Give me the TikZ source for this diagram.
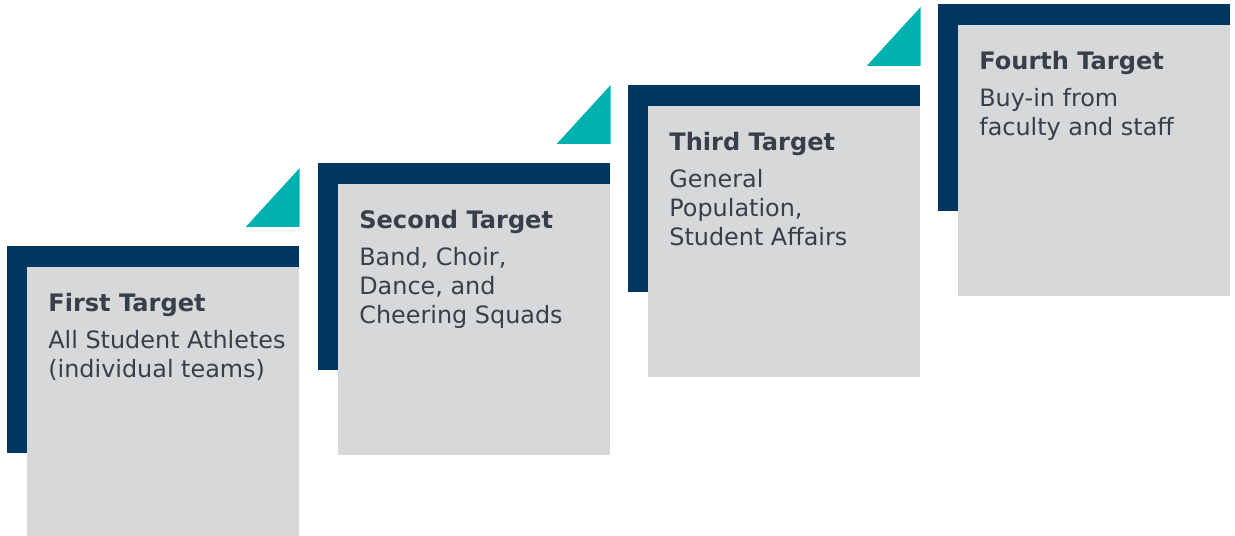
\documentclass[tikz,border=0pt]{standalone}
\usepackage{fontspec}
\setmainfont{DejaVu Sans}
\usetikzlibrary{positioning}
\definecolor{navy}{RGB}{0,54,96}
\definecolor{tealtip}{RGB}{0,178,175}
\definecolor{cardgrey}{RGB}{215,216,218}
\definecolor{inkgrey}{RGB}{55,64,74}

\begin{document}
\begin{tikzpicture}[x=0.02cm, y=-0.02cm,
    backbox/.style={rectangle, fill=navy, inner sep=0pt, minimum width=5.84cm, minimum height=4.14cm, anchor=north west},
    cardbox/.style={rectangle, fill=cardgrey, inner sep=0pt, minimum width=5.44cm, minimum height=5.42cm, anchor=north east},
    steptitle/.style={anchor=base west, inner sep=0pt, font=\bfseries\fontsize{13.7}{17}\selectfont, text=inkgrey},
    stepbody/.style={anchor=north west, inner sep=0pt, align=left, font=\fontsize{13.6}{16.5}\selectfont, text=inkgrey}]
    \clip (0,0) rectangle (1235,536);

    % first step
    \node[backbox] (back1) at (7,246) {};
    \node[cardbox] (card1) at ([yshift=-0.42cm]back1.north east) {};
    \coordinate (corner1) at ([yshift=0.38cm]back1.north east);
    \fill[tealtip] (corner1) -- ++(0,-59) -- ++(-54,59) -- cycle;
    \node[steptitle] (head1) at ([xshift=0.42cm, yshift=-0.9cm]card1.north west) {First Target};
    \node[stepbody] (text1) at ([xshift=0.42cm, yshift=-1.27cm]card1.north west) {All Student Athletes\\(individual teams)};

    % second step
    \node[backbox] (back2) at (318,163) {};
    \node[cardbox] (card2) at ([yshift=-0.42cm]back2.north east) {};
    \coordinate (corner2) at ([yshift=0.38cm]back2.north east);
    \fill[tealtip] (corner2) -- ++(0,-59) -- ++(-54,59) -- cycle;
    \node[steptitle] (head2) at ([xshift=0.42cm, yshift=-0.9cm]card2.north west) {Second Target};
    \node[stepbody] (text2) at ([xshift=0.42cm, yshift=-1.27cm]card2.north west) {Band, Choir,\\Dance, and\\Cheering Squads};

    % third step
    \node[backbox] (back3) at (628,85) {};
    \node[cardbox] (card3) at ([yshift=-0.42cm]back3.north east) {};
    \coordinate (corner3) at ([yshift=0.38cm]back3.north east);
    \fill[tealtip] (corner3) -- ++(0,-59) -- ++(-54,59) -- cycle;
    \node[steptitle] (head3) at ([xshift=0.42cm, yshift=-0.9cm]card3.north west) {Third Target};
    \node[stepbody] (text3) at ([xshift=0.42cm, yshift=-1.27cm]card3.north west) {General\\Population,\\Student Affairs};

    % fourth step
    \node[backbox] (back4) at (938,4) {};
    \node[cardbox] (card4) at ([yshift=-0.42cm]back4.north east) {};
    \coordinate (corner4) at ([yshift=0.38cm]back4.north east);
    \fill[tealtip] (corner4) -- ++(0,-59) -- ++(-54,59) -- cycle;
    \node[steptitle] (head4) at ([xshift=0.42cm, yshift=-0.9cm]card4.north west) {Fourth Target};
    \node[stepbody] (text4) at ([xshift=0.42cm, yshift=-1.27cm]card4.north west) {Buy-in from\\faculty and staff};
\end{tikzpicture}
\end{document}
